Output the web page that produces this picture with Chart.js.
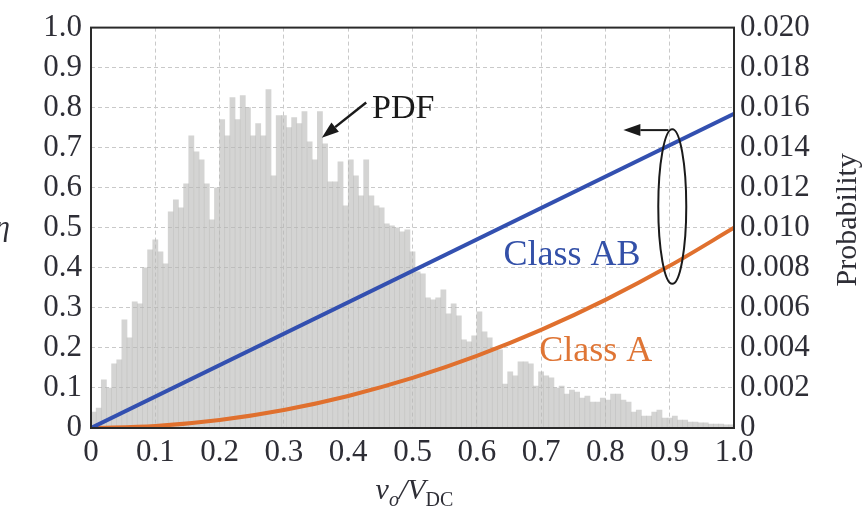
<!DOCTYPE html>
<html lang="en">
<head>
<meta charset="UTF-8">
<title>Efficiency and PDF vs vo/VDC</title>
<script src="https://cdn.jsdelivr.net/npm/chart.js"></script>
<style>
    html, body { margin: 0; padding: 0; background: #ffffff; }
    #wrap { width: 867px; height: 512px; }
</style>
</head>
<body>
<div id="wrap"><canvas id="effChart" width="867" height="512"></canvas></div>
<script>
    // axes
    const xTicks = [0, 0.1, 0.2, 0.3, 0.4, 0.5, 0.6, 0.7, 0.8, 0.9, 1.0];
    const xTickLabels = ['0', '0.1', '0.2', '0.3', '0.4', '0.5', '0.6', '0.7', '0.8', '0.9', '1.0'];
    const etaTicks = [0, 0.1, 0.2, 0.3, 0.4, 0.5, 0.6, 0.7, 0.8, 0.9, 1.0];
    const etaTickLabels = ['0', '0.1', '0.2', '0.3', '0.4', '0.5', '0.6', '0.7', '0.8', '0.9', '1.0'];
    const probTicks = [0, 0.002, 0.004, 0.006, 0.008, 0.010, 0.012, 0.014, 0.016, 0.018, 0.020];
    const probTickLabels = ['0', '0.002', '0.004', '0.006', '0.008', '0.010', '0.012', '0.014', '0.016', '0.018', '0.020'];

    // histogram of vo/VDC (PDF), bins of 0.008
    const binWidth = 0.008;
    const pdfValues = [
        0.0008, 0.0010, 0.0024, 0.0020, 0.0032, 0.0034, 0.0054, 0.0045, 0.0063, 0.0062,
        0.0080, 0.0089, 0.0094, 0.0088, 0.0082, 0.0108, 0.0114, 0.0110, 0.0122, 0.0146,
        0.0138, 0.0134, 0.0122, 0.0104,
        0.0120, 0.0154, 0.0146, 0.0165, 0.0154, 0.0166, 0.0160, 0.0146, 0.0152, 0.0146,
        0.0169, 0.0126, 0.0156, 0.0156, 0.0150, 0.0155, 0.0152, 0.0158, 0.0143, 0.0134,
        0.0158, 0.0142, 0.0123, 0.0123, 0.0133, 0.0111,
        0.0134, 0.0126, 0.0116, 0.0134, 0.0116, 0.0111, 0.0110, 0.0102, 0.0101, 0.0100,
        0.0098, 0.0099, 0.0088, 0.0078, 0.0077, 0.0065, 0.0064, 0.0065, 0.0069, 0.0057,
        0.0062, 0.0056, 0.0044, 0.0043, 0.0046,
        0.0058, 0.0048, 0.0045, 0.0040, 0.0039, 0.0022, 0.0028, 0.0026, 0.0033, 0.0033,
        0.0032, 0.0021, 0.0028, 0.0026, 0.0025, 0.0020, 0.0021, 0.0017, 0.0019, 0.0018,
        0.0015, 0.0016, 0.0013, 0.0013,
        0.0015, 0.0014, 0.0017, 0.0017, 0.0014, 0.0013, 0.0008, 0.0009, 0.0006, 0.0006,
        0.0008, 0.0009, 0.0005, 0.0005, 0.0006, 0.0004, 0.0004, 0.0003, 0.0003, 0.00026,
        0.00026, 0.0002, 0.0002, 0.0002, 0.00016, 0.00016
    ];

    // efficiency curves
    const classABx = [0, 1.0];
    const classABy = [0, 0.785];
    const classAx = [0, 0.1, 0.2, 0.3, 0.4, 0.5, 0.6, 0.7, 0.8, 0.9, 1.0];
    const classAy = [0, 0.005, 0.02, 0.045, 0.08, 0.125, 0.18, 0.245, 0.32, 0.405, 0.5];

    const serif = "'Liberation Serif', 'DejaVu Serif', serif";
    const tickFont = { family: serif, size: 31 };
    const textColor = '#2e2e36';

    function arrow(ctx, x1, y1, x2, y2) {
        // line x1,y1 -> x2,y2 with filled head at x2,y2
        const ang = Math.atan2(y2 - y1, x2 - x1);
        const len = 17, half = 6;
        const bx = x2 - len * Math.cos(ang), by = y2 - len * Math.sin(ang);
        ctx.beginPath();
        ctx.moveTo(x1, y1);
        ctx.lineTo(bx, by);
        ctx.stroke();
        ctx.beginPath();
        ctx.moveTo(x2, y2);
        ctx.lineTo(bx + half * Math.sin(ang), by - half * Math.cos(ang));
        ctx.lineTo(bx - half * Math.sin(ang), by + half * Math.cos(ang));
        ctx.closePath();
        ctx.fill();
    }

    const decorations = {
        id: 'decorations',
        afterDraw(chart) {
            const ctx = chart.ctx;
            const area = chart.chartArea;
            const xs = chart.scales.x, ys = chart.scales.y;
            const X = v => xs.getPixelForValue(v);
            const Y = v => ys.getPixelForValue(v);

            ctx.save();
            // frame
            ctx.strokeStyle = '#2a2a2a';
            ctx.lineWidth = 2;
            ctx.strokeRect(area.left, area.top, area.right - area.left, area.bottom - area.top);

            // PDF label + arrow
            ctx.fillStyle = '#1a1a1a';
            ctx.strokeStyle = '#1a1a1a';
            ctx.lineWidth = 2.5;
            ctx.font = '34px ' + serif;
            ctx.textAlign = 'left';
            ctx.textBaseline = 'middle';
            ctx.fillText('PDF', X(0.437), Y(0.797));
            arrow(ctx, X(0.428), Y(0.813), X(0.359), Y(0.725));

            // curve labels
            ctx.font = '36px ' + serif;
            ctx.textAlign = 'center';
            ctx.fillStyle = '#3350a8';
            ctx.fillText('Class AB', X(0.748), Y(0.43));
            ctx.fillStyle = '#df7535';
            ctx.fillText('Class A', X(0.785), Y(0.19));

            // ellipse and arrow pointing to left axis
            ctx.strokeStyle = '#1a1a1a';
            ctx.fillStyle = '#1a1a1a';
            ctx.lineWidth = 2;
            ctx.beginPath();
            ctx.ellipse(X(0.904), Y(0.553), 14, Y(0.36) - Y(0.553), 0, 0, Math.PI * 2);
            ctx.stroke();
            arrow(ctx, X(0.898), Y(0.744), X(0.828), Y(0.744));

            // axis titles
            ctx.fillStyle = textColor;
            ctx.font = 'italic 30px ' + serif;
            ctx.textAlign = 'right';
            ctx.fillText('\u03b7', 10, Y(0.5));

            ctx.save();
            ctx.translate(848, Y(0.52));
            ctx.rotate(-Math.PI / 2);
            ctx.textAlign = 'center';
            ctx.font = '30px ' + serif;
            ctx.fillText('Probability', 0, 0);
            ctx.restore();

            // vo/VDC
            const parts = [
                { t: 'v', f: 'italic 30px ', dy: 0 },
                { t: 'o', f: 'italic 20px ', dy: 7 },
                { t: '/V', f: 'italic 30px ', dy: 0 },
                { t: 'DC', f: '20px ', dy: 7 }
            ];
            let total = 0;
            parts.forEach(p => { ctx.font = p.f + serif; p.w = ctx.measureText(p.t).width; total += p.w; });
            let px = (area.left + area.right) / 2 - total / 2 + 2;
            const baseY = 499;
            ctx.textAlign = 'left';
            ctx.textBaseline = 'alphabetic';
            parts.forEach(p => {
                ctx.font = p.f + serif;
                ctx.fillText(p.t, px, baseY + p.dy);
                px += p.w;
            });
            ctx.restore();
        }
    };

    const histData = pdfValues.map((v, i) => ({ x: (i + 0.5) * binWidth, y: v }));
    const abData = classABx.map((x, i) => ({ x: x, y: classABy[i] }));
    const aData = classAx.map((x, i) => ({ x: x, y: classAy[i] }));

    new Chart(document.getElementById('effChart'), {
        type: 'line',
        data: {
            datasets: [
                {
                    type: 'line',
                    label: 'Class AB',
                    data: abData,
                    yAxisID: 'y',
                    borderColor: '#3350b0',
                    borderWidth: 4,
                    pointRadius: 0,
                    fill: false
                },
                {
                    type: 'line',
                    label: 'Class A',
                    data: aData,
                    yAxisID: 'y',
                    borderColor: '#e0702e',
                    borderWidth: 4,
                    pointRadius: 0,
                    cubicInterpolationMode: 'monotone',
                    fill: false
                },
                {
                    type: 'bar',
                    label: 'PDF',
                    data: histData,
                    yAxisID: 'y1',
                    backgroundColor: 'rgba(184,184,182,0.6)',
                    borderWidth: 0,
                    barPercentage: 1,
                    categoryPercentage: 1
                }
            ]
        },
        options: {
            responsive: false,
            animation: false,
            layout: { padding: { top: 21, left: 0, right: 0, bottom: 0 } },
            plugins: {
                legend: { display: false },
                tooltip: { enabled: false }
            },
            scales: {
                x: {
                    type: 'linear',
                    min: 0,
                    max: 1,
                    offset: false,
                    grid: { color: '#c9c9c9', lineWidth: 1, drawTicks: false, offset: false },
                    border: { display: false, dash: [4, 3] },
                    afterBuildTicks: s => { s.ticks = xTicks.map(v => ({ value: v })); },
                    afterFit: s => { s.height = 84; },
                    ticks: {
                        font: tickFont,
                        color: textColor,
                        padding: 6,
                        maxRotation: 0,
                        autoSkip: false,
                        callback: (v, i) => xTickLabels[i]
                    }
                },
                y: {
                    type: 'linear',
                    position: 'left',
                    min: 0,
                    max: 1,
                    grid: { color: '#c9c9c9', lineWidth: 1, drawTicks: false },
                    border: { display: false, dash: [4, 3] },
                    afterBuildTicks: s => { s.ticks = etaTicks.map(v => ({ value: v })); },
                    afterFit: s => { s.width = 91; },
                    ticks: {
                        font: tickFont,
                        color: textColor,
                        padding: 9,
                        autoSkip: false,
                        callback: (v, i) => etaTickLabels[i]
                    }
                },
                y1: {
                    type: 'linear',
                    position: 'right',
                    min: 0,
                    max: 0.02,
                    grid: { drawOnChartArea: false, drawTicks: false },
                    border: { display: false },
                    afterBuildTicks: s => { s.ticks = probTicks.map(v => ({ value: v })); },
                    afterFit: s => { s.width = 133; },
                    ticks: {
                        font: tickFont,
                        color: textColor,
                        padding: 6,
                        autoSkip: false,
                        callback: (v, i) => probTickLabels[i]
                    }
                }
            }
        },
        plugins: [decorations]
    });
</script>
</body>
</html>
